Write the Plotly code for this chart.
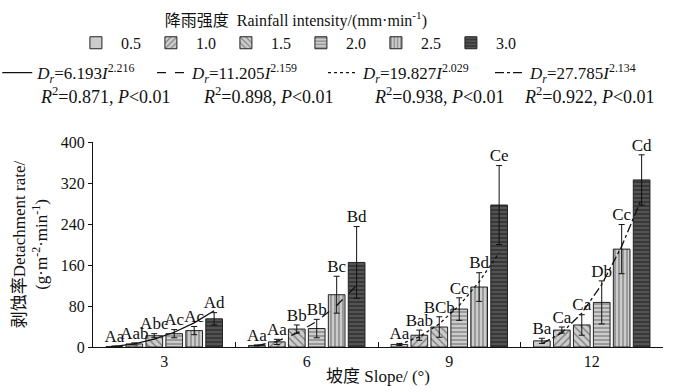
import plotly.graph_objects as go

# ---------------- data ----------------
slopes = ["3", "6", "9", "12"]
intensities = ["0.5", "1.0", "1.5", "2.0", "2.5", "3.0"]
intensity_values = [0.5, 1.0, 1.5, 2.0, 2.5, 3.0]

# detachment rate per intensity, values across slopes 3, 6, 9, 12
rate_05 = [1, 3, 5, 12]
rate_10 = [6, 10, 23, 33]
rate_15 = [22, 35, 39, 43]
rate_20 = [26, 36, 74, 87]
rate_25 = [32, 102, 117, 191]
rate_30 = [55, 165, 277, 326]

err_05 = [1, 1, 2, 5]
err_10 = [2, 5, 10, 6]
err_15 = [4, 8, 20, 20]
err_20 = [8, 18, 22, 42]
err_25 = [8, 36, 28, 48]
err_30 = [12, 70, 77, 49]

lab_05 = ["Aa", "Aa", "Aa", "Ba"]
lab_10 = ["Aab", "Aa", "Bab", "Ca"]
lab_15 = ["Abc", "Bb", "BCb", "Ca"]
lab_20 = ["Ac", "Bb", "Cc", "Db"]
lab_25 = ["Ac", "Bc", "Bd", "Cc"]
lab_30 = ["Ad", "Bd", "Ce", "Cd"]

# fitted power laws D_r = a * I^b per slope
fit_a = [6.193, 11.205, 19.827, 27.785]
fit_b = [2.216, 2.159, 2.029, 2.134]
fit_r2 = ["0.871", "0.898", "0.938", "0.922"]

rates = [rate_05, rate_10, rate_15, rate_20, rate_25, rate_30]
errs = [err_05, err_10, err_15, err_20, err_25, err_30]
labs = [lab_05, lab_10, lab_15, lab_20, lab_25, lab_30]

# ---------------- styles ----------------
FONT = "Liberation Serif, Times New Roman, Noto Sans CJK SC, serif"
pitch = 0.14
bw = 0.117
styles = [
    dict(color="#cccccc", pattern=dict(shape="")),
    dict(color="#cccccc", pattern=dict(shape="/", fgcolor="#222", size=5, solidity=0.25)),
    dict(color="#cccccc", pattern=dict(shape="\\", fgcolor="#222", size=5, solidity=0.25)),
    dict(color="#cccccc", pattern=dict(shape="-", fgcolor="#222", size=4, solidity=0.3)),
    dict(color="#cccccc", pattern=dict(shape="|", fgcolor="#222", size=4, solidity=0.3)),
    dict(color="#383838", pattern=dict(shape="-", fgcolor="#8a8a8a", size=4, solidity=0.35)),
]
dashes = ["solid", "dash", "dot", "dashdot"]
# legend anchor positions (paper fraction of plot width) and text start positions
eq_legend_x = [-0.168, 0.1035, 0.4035, 0.6965]
eq_text_x = [-0.0965, 0.1895, 0.4895, 0.7526]

fig = go.Figure()

for k, name in enumerate(intensities):
    xs = [g + (k - 2.5) * pitch for g in range(len(slopes))]
    st = styles[k]
    fig.add_trace(go.Bar(
        x=xs, y=rates[k], width=bw, name=name, legend="legend",
        marker=dict(color=st["color"], pattern=dict(bgcolor=st["color"], **st["pattern"]),
                    line=dict(color="#222", width=1)),
        error_y=dict(type="data", array=errs[k], color="#111", thickness=1, width=3),
    ))

for k in range(len(intensities)):
    xs = [g + (k - 2.5) * pitch for g in range(len(slopes))]
    tops = [v + e for v, e in zip(rates[k], errs[k])]
    fig.add_trace(go.Scatter(
        x=xs, y=tops, mode="text", text=labs[k], textposition="top center", cliponaxis=False,
        textfont=dict(family=FONT, size=17, color="#111"), showlegend=False, hoverinfo="skip",
    ))

eq_legends = {}
annotations = []
for g in range(len(slopes)):
    xs = [g + (k - 2.5) * pitch for k in range(len(intensities))]
    ys = [fit_a[g] * (i ** fit_b[g]) for i in intensity_values]
    label = f"<i>D</i><sub><i>r</i></sub>={fit_a[g]:.3f}<i>I</i><sup>{fit_b[g]:.3f}</sup>"
    lname = f"legend{g + 2}"
    fig.add_trace(go.Scatter(
        x=xs, y=ys, mode="lines", name=label, legend=lname,
        line=dict(color="#111", width=1.3, dash=dashes[g]), hoverinfo="skip",
    ))
    eq_legends[lname] = dict(
        orientation="h", x=eq_legend_x[g], xanchor="left", y=1.3366, yanchor="middle",
        font=dict(size=17), itemwidth=30, bgcolor="rgba(0,0,0,0)",
    )
    annotations.append(dict(
        xref="paper", yref="paper", x=eq_text_x[g], y=1.229, xanchor="left", yanchor="middle",
        text=f"<i>R</i><sup>2</sup>={fit_r2[g]}, <i>P</i>&lt;0.01", showarrow=False,
        font=dict(family=FONT, size=18, color="#111"),
    ))

fig.update_layout(
    width=673, height=392,
    margin=dict(l=93, r=10, t=142, b=45, autoexpand=False),
    paper_bgcolor="white", plot_bgcolor="white",
    barmode="overlay",
    font=dict(family=FONT, size=16, color="#111"),
    annotations=annotations,
    legend=dict(
        orientation="h", x=0.356, xanchor="center", y=1.668, yanchor="top",
        title=dict(text="降雨强度  Rainfall intensity/(mm·min<sup>-1</sup>)", side="top center",
                   font=dict(size=16)),
        font=dict(size=16), itemwidth=40, traceorder="normal",
        bgcolor="rgba(0,0,0,0)",
    ),
    **eq_legends,
    xaxis=dict(
        range=[-0.5, 3.5], tickmode="array", tickvals=[0, 1, 2, 3], ticktext=slopes,
        ticks="", showline=True, linecolor="#111", linewidth=1, showgrid=False, zeroline=False,
        minor=dict(tickmode="array", tickvals=[0.5, 1.5, 2.5], ticks="inside", ticklen=5,
                   tickcolor="#111", showgrid=False),
        tickfont=dict(size=16),
        title=dict(text="坡度 Slope/ (°)", font=dict(size=17), standoff=0),
        automargin=False,
    ),
    yaxis=dict(
        range=[0, 400], tickmode="array", tickvals=[0, 80, 160, 240, 320, 400],
        ticks="outside", ticklen=4, tickcolor="#111", showline=True, linecolor="#111",
        linewidth=1, showgrid=False, zeroline=False, tickfont=dict(size=16),
        title=dict(text="剥蚀率Detachment rate/<br>(g·m<sup>-2</sup>·min<sup>-1</sup>)",
                   font=dict(size=17), standoff=8),
        automargin=False,
    ),
)

fig.write_html("out.html", config={"displayModeBar": False},
               post_script="document.body.style.margin='0px';")
